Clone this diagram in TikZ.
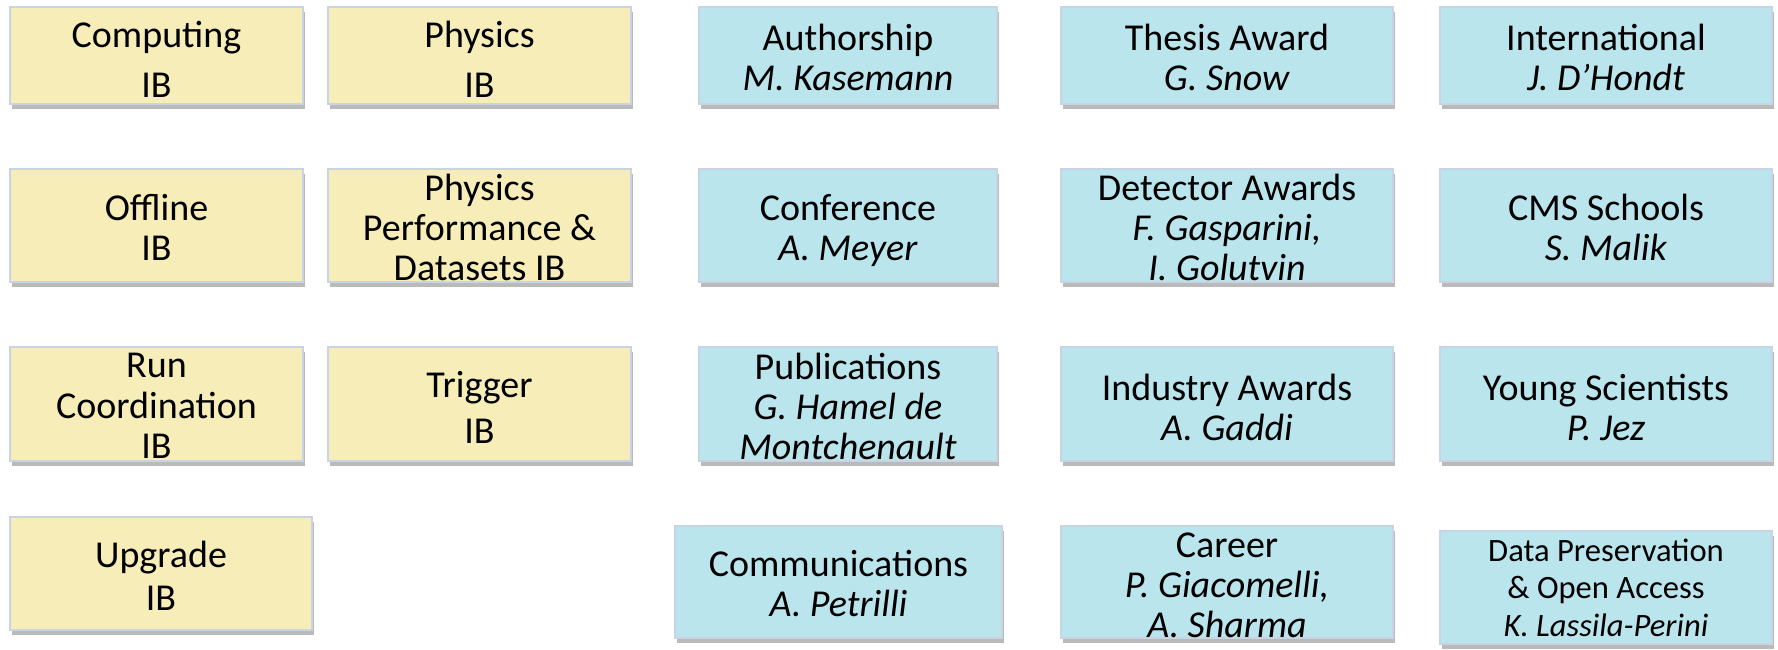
\documentclass[tikz,border=0pt]{standalone}
\usepackage{fontspec}
\setmainfont{Carlito}
\usetikzlibrary{fit,shadows}
\definecolor{yfill}{RGB}{246,237,185}
\definecolor{bfill}{RGB}{187,229,236}
\definecolor{bord}{RGB}{200,212,228}
\tikzset{
  boxbase/.style={draw=bord, line width=0.6pt, inner sep=0pt, rectangle,
    drop shadow={shadow xshift=1.2pt, shadow yshift=-2.6pt, fill=black!60, opacity=0.45}},
  ybox/.style={boxbase, fill=yfill},
  bbox/.style={boxbase, fill=bfill},
  lbl/.style={align=center, inner sep=0pt, text=black, yshift=-3.9pt,
    font=\fontsize{19}{20}\selectfont,
    execute at begin node=\strut, execute at end node=\strut},
  lblsmall/.style={lbl, yshift=1.1pt, font=\fontsize{16.3}{18.7}\selectfont},
}
\begin{document}
\begin{tikzpicture}[x=0.5pt, y=-0.5pt]
\useasboundingbox (0,0) rectangle (1778,649);
% yellow boxes
\node[ybox, fit={(10,7) (303,104)}] (comp) {};
\node[ybox, fit={(328,7) (631,104)}] (phys) {};
\node[ybox, fit={(10,169) (303,282)}] (offl) {};
\node[ybox, fit={(328,169) (631,282)}] (ppd) {};
\node[ybox, fit={(10,347) (303,461)}] (runc) {};
\node[ybox, fit={(328,347) (631,461)}] (trig) {};
\node[ybox, fit={(10,517) (312,630)}] (upg) {};
% blue boxes
\node[bbox, fit={(699,7) (997,104)}] (auth) {};
\node[bbox, fit={(1061,7) (1393,104)}] (thes) {};
\node[bbox, fit={(1440,7) (1772,104)}] (intl) {};
\node[bbox, fit={(699,169) (997,282)}] (conf) {};
\node[bbox, fit={(1061,169) (1393,282)}] (det) {};
\node[bbox, fit={(1440,169) (1772,282)}] (cms) {};
\node[bbox, fit={(699,347) (997,461)}] (pub) {};
\node[bbox, fit={(1061,347) (1393,461)}] (ind) {};
\node[bbox, fit={(1440,347) (1772,461)}] (young) {};
\node[bbox, fit={(675,526) (1002,638)}] (comm) {};
\node[bbox, fit={(1061,526) (1393,638)}] (car) {};
\node[bbox, fit={(1440,531) (1772,644)}] (data) {};
% labels
\node[lbl, yshift=-1.2pt] (compt) at (comp.center) {Computing\\[5pt]IB};
\node[lbl, yshift=-1.2pt] (physt) at (phys.center) {Physics\\[5pt]IB};
\node[lbl] (offlt) at (offl.center) {Offline\\IB};
\node[lbl] (ppdt) at (ppd.center) {Physics\\Performance \&\\Datasets IB};
\node[lbl] (runct) at (runc.center) {Run\\Coordination\\IB};
\node[lbl, yshift=-0.8pt] (trigt) at (trig.center) {Trigger\\[2.7pt]IB};
\node[lbl] (upgt) at (upg.center) {Upgrade\\[1.5pt]IB};
\node[lbl] (autht) at (auth.center) {Authorship\\\textit{M. Kasemann}};
\node[lbl] (thest) at (thes.center) {Thesis Award\\\textit{G. Snow}};
\node[lbl] (intlt) at (intl.center) {International\\\textit{J. D’Hondt}};
\node[lbl] (conft) at (conf.center) {Conference\\\textit{A. Meyer}};
\node[lbl] (dett) at (det.center) {Detector Awards\\\textit{F. Gasparini,}\\\textit{I. Golutvin}};
\node[lbl] (cmst) at (cms.center) {CMS Schools\\\textit{S. Malik}};
\node[lbl] (pubt) at (pub.center) {Publications\\\textit{G. Hamel de}\\\textit{Montchenault}};
\node[lbl, yshift=-0.8pt] (indt) at (ind.center) {Industry Awards\\\textit{A. Gaddi}};
\node[lbl, yshift=-0.8pt] (youngt) at (young.center) {Young Scientists\\\textit{P. Jez}};
\node[lbl] (commt) at (comm.center) {Communications\\\textit{A. Petrilli}};
\node[lbl, yshift=-0.8pt] (cart) at (car.center) {Career\\\textit{P. Giacomelli,}\\\textit{A. Sharma}};
\node[lblsmall] (datat) at (data.center) {Data Preservation\\\& Open Access\\\textit{K. Lassila-Perini}};
\end{tikzpicture}
\end{document}
